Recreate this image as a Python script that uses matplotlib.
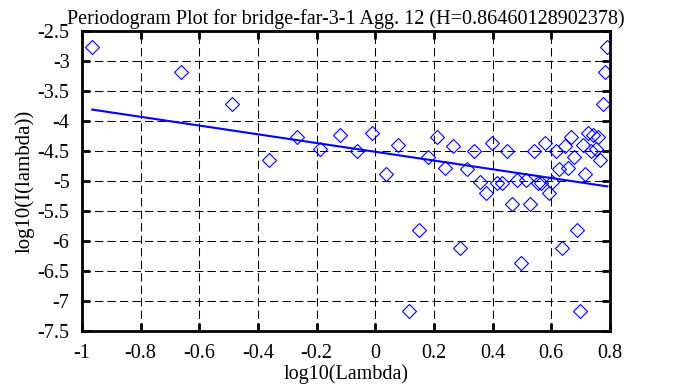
import numpy as np
import matplotlib
matplotlib.use("Agg")
import matplotlib.pyplot as plt


# periodogram points (log10 lambda, log10 I(lambda))
log_lambda = [
    -0.965, -0.664, -0.488, -0.363, -0.266, -0.187, -0.120, -0.062, -0.011,
    0.035, 0.076, 0.114, 0.149, 0.181, 0.211, 0.239, 0.265, 0.290, 0.314,
    0.336, 0.357, 0.377, 0.397, 0.415, 0.433, 0.450, 0.466, 0.482, 0.497,
    0.512, 0.526, 0.540, 0.553, 0.566, 0.579, 0.591, 0.603, 0.615, 0.626,
    0.637, 0.648, 0.658, 0.668, 0.678, 0.688, 0.698, 0.707, 0.716, 0.725,
    0.734, 0.742, 0.751, 0.759, 0.767, 0.775, 0.783, 0.791,
]
log_I = [
    -2.77, -3.18, -3.72, -4.65, -4.26, -4.46, -4.23, -4.50, -4.20,
    -4.89, -4.40, -7.16, -5.82, -4.60, -4.26, -4.79, -4.41, -6.11, -4.80,
    -4.50, -5.01, -5.20, -4.37, -5.03, -5.04, -4.50, -5.39, -4.99, -6.36,
    -4.99, -5.39, -4.50, -5.04, -5.03, -4.37, -5.20, -5.01, -4.50, -4.80,
    -6.11, -4.41, -4.79, -4.26, -4.60, -5.82, -7.16, -4.40, -4.89, -4.20,
    -4.50, -4.23, -4.46, -4.26, -4.65, -3.72, -3.18, -2.77,
]

# least squares line end points
fit_x = [-0.965, 0.791]
fit_y = [-3.81, -5.09]

hurst = "0.86460128902378"
title = f"Periodogram Plot for bridge-far-3-1 Agg. 12 (H={hurst})"

plt.rcParams["font.family"] = ["Liberation Serif", "DejaVu Serif"]

fig = plt.figure(figsize=(6.73, 3.87), dpi=100)
ax = fig.add_axes([82 / 673, 56 / 387, 528 / 673, 300 / 387])

ax.plot(log_lambda, log_I, linestyle="none", marker="D", ms=7,
        mfc="none", mec="#0000ff", mew=0.8)
ax.plot(fit_x, fit_y, color="#0000ff", lw=1.5)

ax.set_xlim(-1, 0.8)
ax.set_ylim(-7.5, -2.5)
xt = np.round(np.arange(-1, 0.81, 0.2), 1)
yt = np.arange(-7.5, -2.49, 0.5)
ax.set_xticks(xt)
ax.set_yticks(yt)
ax.set_xticklabels(["0" if v == 0 else f"{v:g}" for v in xt])
ax.set_yticklabels([f"{v:g}" for v in yt])

ax.grid(True, color="black", linestyle=(0, (8, 4)), lw=0.75)
ax.tick_params(direction="in", length=6, width=2, top=True, right=True,
               pad=9, labelsize=14.5)
for s in ax.spines.values():
    s.set_linewidth(2)

ax.set_xlabel("log10(Lambda)", fontsize=14.5, labelpad=1)
ax.set_ylabel("log10(I(lambda))", fontsize=15, labelpad=2)
ax.set_title(title, fontsize=14.5, pad=5)

fig.savefig("out.png", dpi=100)
